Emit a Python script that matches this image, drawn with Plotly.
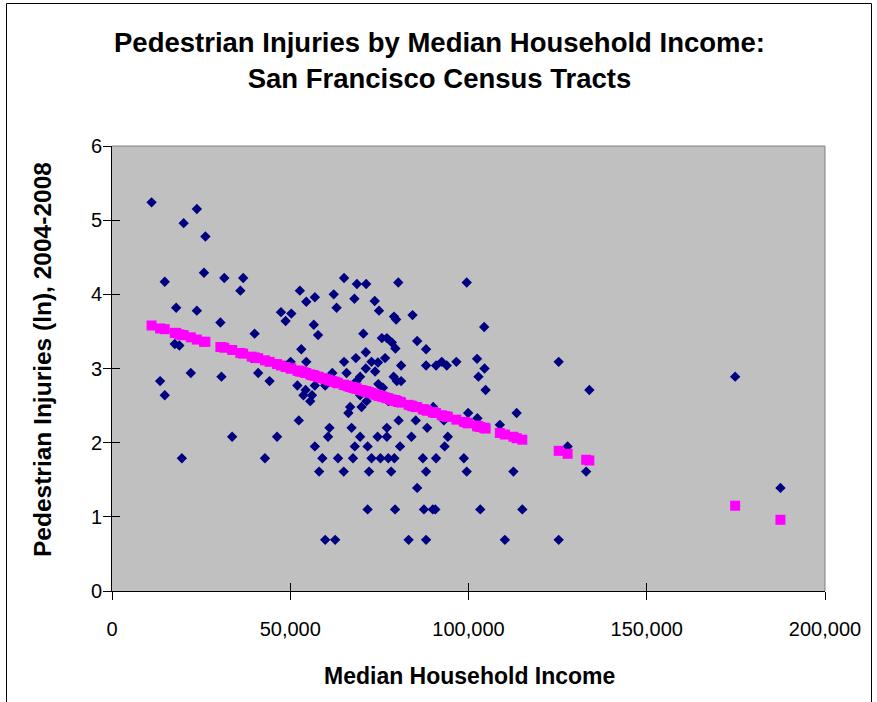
import plotly.graph_objects as go

# ---------------- data ----------------
income = [
    11100, 23800, 20100, 26200, 25800, 14800, 31500, 36800, 36000, 52700,
    65100, 56900, 54500, 62200, 63000, 18000, 23800, 47400, 50300, 48700,
    30400, 56600, 57800, 40000, 53100, 54500, 65100, 17600, 18900, 13500,
    14800, 22100, 30700, 41000, 44200, 52400, 52000, 53700, 54300, 56100,
    55600, 56900, 59800, 33700, 46300, 19600, 42900, 61000, 60600, 56900,
    59000, 63400, 58100, 65000, 59800, 62600, 61800, 65800, 66300, 66800,
    39200, 50100, 68700, 71300, 68000, 73700, 74900, 79100, 79700, 70500,
    75700, 77100, 78500, 79500, 71200, 68400, 72800, 74600, 76600, 71200,
    73800, 79000, 79900, 69600, 68600, 74700, 76000, 68600, 69600, 71400,
    70000, 77500, 80300, 99500, 84300, 104400, 85600, 88100, 81100, 88100,
    90900, 92500, 93900, 96600, 102400, 104500, 102800, 104800, 125300, 81100,
    90100, 99900, 113500, 67200, 69600, 74500, 77100, 77100, 80400, 68100,
    71700, 80800, 67600, 72800, 75300, 77500, 79200, 72100, 78300, 71700,
    79400, 102500, 108800, 85200, 88400, 93100, 84000, 94200, 93300, 87200,
    90900, 98700, 88100, 99500, 112600, 85600, 87500, 90000, 90700, 103300,
    115100, 83200, 88100, 110200, 127800, 125300, 133900, 174800, 133000, 187500,
]
injuries_ln = [
    5.24, 5.15, 4.96, 4.78, 4.29, 4.17, 4.22, 4.22, 4.05, 4.05,
    4.22, 3.96, 3.90, 4.00, 3.82, 3.82, 3.78, 3.76, 3.74, 3.64,
    3.62, 3.59, 3.45, 3.47, 3.26, 3.09, 3.09, 3.33, 3.31, 2.83,
    2.64, 2.94, 2.89, 2.94, 2.83, 2.30, 2.77, 2.64, 2.71, 2.64,
    2.56, 2.77, 2.77, 2.08, 2.08, 1.79, 1.79, 2.20, 2.08, 1.95,
    1.79, 1.79, 1.61, 1.61, 0.69, 0.69, 2.94, 2.94, 2.40, 2.48,
    3.14, 3.09, 4.14, 4.14, 3.94, 3.91, 3.78, 3.70, 3.66, 3.47,
    3.41, 3.41, 3.35, 3.27, 3.22, 3.14, 3.09, 3.08, 3.14, 3.00,
    2.96, 2.89, 2.83, 2.89, 2.83, 2.79, 2.74, 2.71, 2.64, 2.56,
    2.48, 2.56, 4.16, 4.16, 3.72, 3.56, 3.37, 3.26, 3.04, 3.04,
    3.04, 3.09, 3.04, 3.09, 3.13, 3.00, 2.89, 2.71, 3.09, 2.83,
    2.48, 2.40, 2.40, 2.20, 2.08, 2.08, 2.08, 2.20, 2.30, 1.95,
    1.95, 1.95, 1.79, 1.79, 1.79, 1.79, 1.79, 1.61, 1.61, 1.10,
    1.10, 2.33, 2.24, 2.30, 2.20, 2.30, 2.08, 2.08, 1.95, 1.79,
    1.79, 1.79, 1.61, 1.61, 1.61, 1.39, 1.10, 1.10, 1.10, 1.10,
    1.10, 0.69, 0.69, 0.69, 1.95, 0.69, 2.71, 2.89, 1.61, 1.39,
]

pred_income = [
    11100, 13500, 14800, 17600, 18000, 18900, 19600, 20100, 22100, 23800,
    25800, 26200, 30400, 30700, 31500, 33700, 36000, 36800, 39200, 40000,
    41000, 42900, 44200, 46300, 47400, 48700, 50100, 50300, 52000, 52400,
    52700, 53100, 53700, 54300, 54500, 55600, 56100, 56600, 56900, 57800,
    58100, 59000, 59800, 60600, 61000, 61800, 62200, 62600, 63000, 63400,
    65000, 65100, 65800, 66300, 66800, 67200, 67600, 68000, 68100, 68400,
    68600, 68700, 69600, 70000, 70500, 71200, 71300, 71400, 71700, 72100,
    72800, 73700, 73800, 74500, 74600, 74700, 74900, 75300, 75700, 76000,
    76600, 77100, 77500, 78300, 78500, 79000, 79100, 79200, 79400, 79500,
    79700, 79900, 80300, 80400, 80800, 81100, 83200, 84000, 84300, 85200,
    85600, 87200, 87500, 88100, 88400, 90000, 90100, 90700, 90900, 92500,
    93100, 93300, 93900, 94200, 96600, 98700, 99500, 99900, 102400, 102500,
    102800, 103300, 104400, 104500, 104800, 108800, 110200, 112600, 113500, 115100,
    125300, 127800, 133000, 133900, 174800, 187500,
]
pred_ln = [
    3.58, 3.54, 3.53, 3.48, 3.48, 3.46, 3.45, 3.45, 3.42, 3.39,
    3.36, 3.36, 3.29, 3.29, 3.28, 3.25, 3.21, 3.20, 3.16, 3.15,
    3.14, 3.11, 3.09, 3.06, 3.04, 3.02, 3.00, 3.00, 2.97, 2.97,
    2.96, 2.96, 2.95, 2.94, 2.94, 2.92, 2.91, 2.91, 2.90, 2.89,
    2.88, 2.87, 2.86, 2.85, 2.84, 2.83, 2.82, 2.82, 2.81, 2.80,
    2.78, 2.78, 2.77, 2.76, 2.75, 2.75, 2.74, 2.74, 2.74, 2.73,
    2.73, 2.73, 2.71, 2.71, 2.70, 2.69, 2.69, 2.69, 2.68, 2.68,
    2.67, 2.65, 2.65, 2.64, 2.64, 2.64, 2.63, 2.63, 2.62, 2.62,
    2.61, 2.60, 2.60, 2.58, 2.58, 2.57, 2.57, 2.57, 2.57, 2.57,
    2.56, 2.56, 2.55, 2.55, 2.55, 2.54, 2.51, 2.50, 2.49, 2.48,
    2.48, 2.45, 2.45, 2.44, 2.43, 2.41, 2.41, 2.40, 2.40, 2.37,
    2.36, 2.36, 2.35, 2.35, 2.31, 2.28, 2.27, 2.26, 2.23, 2.22,
    2.22, 2.21, 2.20, 2.20, 2.19, 2.13, 2.11, 2.08, 2.06, 2.04,
    1.89, 1.85, 1.77, 1.76, 1.15, 0.96,
]

x_ticks = [0, 50000, 100000, 150000, 200000]
x_tick_labels = ["0", "50,000", "100,000", "150,000", "200,000"]
y_ticks = [0, 1, 2, 3, 4, 5, 6]
y_tick_labels = ["0", "1", "2", "3", "4", "5", "6"]

title_lines = ["Pedestrian Injuries by Median Household Income:", "San Francisco Census Tracts"]
x_title = "Median Household Income"
y_title = "Pedestrian Injuries (ln), 2004-2008"

# ---------------- figure ----------------
W, H = 877, 702
L, R, T, B = 112, 825, 146, 591  # plot area pixel edges
FONT = "Arial, Liberation Sans, sans-serif"


def px_x(p):
    return (p - L) / (R - L)


def px_y(p):
    return (B - p) / (B - T)


fig = go.Figure()
fig.add_trace(go.Scatter(
    x=income, y=injuries_ln, mode="markers",
    marker=dict(symbol="diamond", size=8, color="#000080", line=dict(width=0)),
    showlegend=False, hoverinfo="x+y",
))
fig.add_trace(go.Scatter(
    x=pred_income, y=pred_ln, mode="markers",
    marker=dict(symbol="square", size=10, color="#FF00FF", line=dict(width=0)),
    showlegend=False, hoverinfo="x+y",
))
# empty trace so the overlay axes (inner half of crossing ticks) are drawn
fig.add_trace(go.Scatter(x=[], y=[], xaxis="x2", yaxis="y2", showlegend=False))

axis_common = dict(showgrid=False, zeroline=False, tickcolor="black", ticklen=8,
                   tickwidth=1, tickfont=dict(family=FONT, size=20, color="black"))

fig.update_layout(
    width=W, height=H,
    margin=dict(l=L, r=W - R, t=T, b=H - B, pad=0),
    paper_bgcolor="white", plot_bgcolor="#C0C0C0",
    xaxis=dict(range=[0, 200000], tickmode="array", tickvals=x_ticks, ticktext=x_tick_labels,
               ticks="outside", showline=True, linecolor="black", linewidth=1,
               ticklabelstandoff=12, **axis_common),
    yaxis=dict(range=[0, 6], tickmode="array", tickvals=y_ticks, ticktext=y_tick_labels,
               ticks="outside", showline=True, linecolor="black", linewidth=1,
               ticklabelstandoff=-3, **axis_common),
    xaxis2=dict(range=[0, 200000], overlaying="x", anchor="y2", side="bottom",
                tickmode="array", tickvals=x_ticks, ticks="inside", showticklabels=False,
                showline=False, **axis_common),
    yaxis2=dict(range=[0, 6], overlaying="y", anchor="x2", side="left",
                tickmode="array", tickvals=y_ticks, ticks="inside", showticklabels=False,
                showline=False, **axis_common),
    showlegend=False,
)

# plot-area border (top/right, gray) and chart-area frame (black)
fig.add_shape(type="line", xref="paper", yref="paper", x0=0, x1=1, y0=1, y1=1,
              line=dict(color="#808080", width=1))
fig.add_shape(type="line", xref="paper", yref="paper", x0=1, x1=1, y0=0, y1=1,
              line=dict(color="#808080", width=1))
fig.add_shape(type="rect", xref="paper", yref="paper",
              x0=px_x(6.5), x1=px_x(871.5), y0=px_y(760), y1=px_y(3.5),
              line=dict(color="black", width=1), fillcolor="rgba(0,0,0,0)")

fig.add_annotation(text="<br>".join("<b>" + s + "</b>" for s in title_lines),
                   xref="paper", yref="paper",
                   x=px_x(439), y=px_y(60), xanchor="center", yanchor="middle",
                   showarrow=False, font=dict(family=FONT, size=27.5, color="black"),
                   align="center")
fig.add_annotation(text="<b>" + x_title + "</b>", xref="paper", yref="paper",
                   x=px_x(469), y=px_y(676), xanchor="center", yanchor="middle",
                   showarrow=False, font=dict(family=FONT, size=23, color="black"))
fig.add_annotation(text="<b>" + y_title + "</b>", xref="paper", yref="paper",
                   x=px_x(42), y=px_y(360), xanchor="center", yanchor="middle",
                   textangle=-90, showarrow=False,
                   font=dict(family=FONT, size=24.5, color="black"))

fig.write_html("out.html", config={"displayModeBar": False},
               post_script="document.body.style.margin='0px';")
